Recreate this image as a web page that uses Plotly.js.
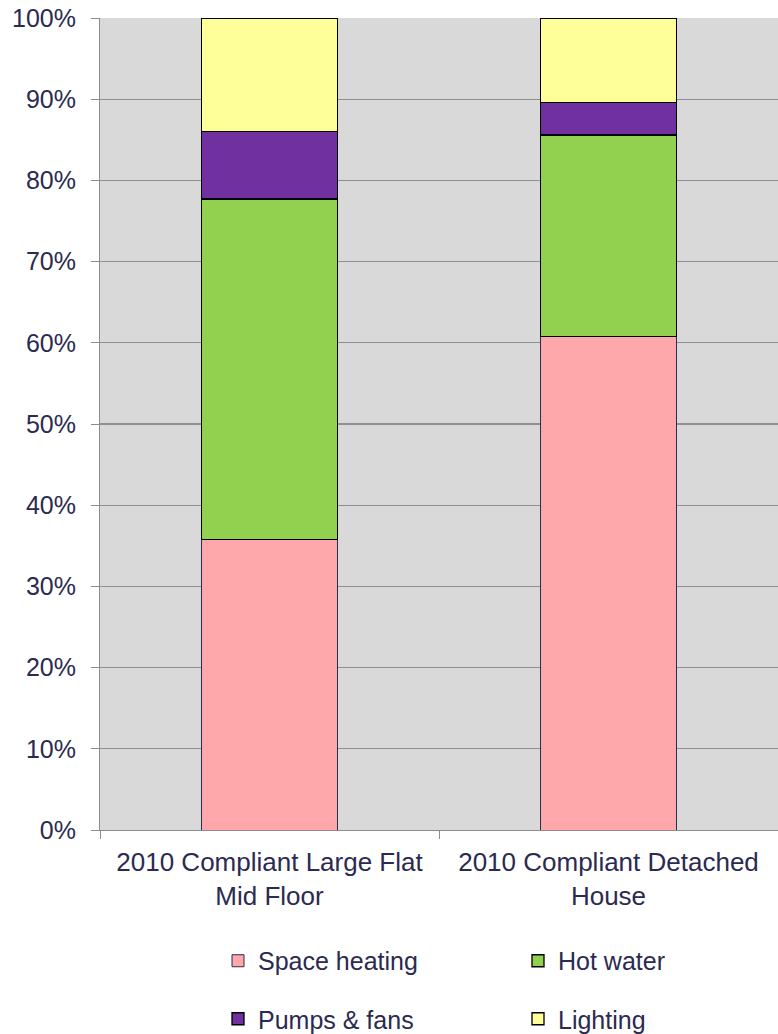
<!DOCTYPE html>
<html>
<head>
<meta charset="utf-8">
<script src="https://cdn.plot.ly/plotly-3.0.1.min.js"></script>
<style>html,body{margin:0;padding:0;background:#fff;}#chart{width:778px;height:1034px;}</style>
</head>
<body>
<div id="chart"></div>
<script>
const categories = ["2010 Compliant Large Flat<br>Mid Floor", "2010 Compliant Detached<br>House"];
const seriesNames = ["Space heating", "Hot water", "Pumps & fans", "Lighting"];
const spaceHeating = [35.8, 60.8];
const hotWater = [41.9, 24.8];
const pumpsFans = [8.3, 4.0];
const lighting = [14.0, 10.4];
const yTickVals = [0, 10, 20, 30, 40, 50, 60, 70, 80, 90, 100];
const yTickLabels = ["0%", "10%", "20%", "30%", "40%", "50%", "60%", "70%", "80%", "90%", "100%"];

const colors = ["#FFA8AC", "#92D050", "#7030A0", "#FFFF99"];
const lineColors = ["#2b2a50", "#000000", "#000000", "#000000"];
const lineWidths = [1, 1.3, 1.3, 1.3];
const legends = ["legend", "legend", "legend2", "legend2"];
const values = [spaceHeating, hotWater, pumpsFans, lighting];

const textColor = "#2b2a50";
const fontFamily = "Liberation Sans, Arial, sans-serif";

const traces = values.map((v, i) => ({
  type: "bar",
  name: seriesNames[i],
  x: categories,
  y: v,
  marker: { color: colors[i], line: { color: lineColors[i], width: lineWidths[i] } },
  legend: legends[i],
  hoverinfo: "skip"
}));

const legendCommon = {
  orientation: "h",
  traceorder: "normal",
  xanchor: "left",
  x: 0,
  indentation: 118,
  entrywidth: 137,
  entrywidthmode: "pixels",
  font: { family: fontFamily, size: 25, color: textColor },
  bgcolor: "rgba(0,0,0,0)",
  borderwidth: 0,
  itemclick: false,
  itemdoubleclick: false
};

const layout = {
  width: 778,
  height: 1034,
  margin: { l: 100, r: 0, t: 18, b: 204, pad: 0 },
  paper_bgcolor: "#ffffff",
  plot_bgcolor: "#D9D9D9",
  barmode: "stack",
  bargap: 0.6,
  showlegend: true,
  font: { family: fontFamily, color: textColor },
  xaxis: {
    type: "category",
    showgrid: false,
    showline: true,
    linecolor: "#8c8c8c",
    linewidth: 1,
    ticks: "outside",
    tickson: "boundaries",
    ticklen: 8,
    tickcolor: "#8c8c8c",
    ticklabelstandoff: 9,
    tickfont: { family: fontFamily, size: 26, color: textColor },
    fixedrange: true
  },
  yaxis: {
    range: [0, 100],
    tickmode: "array",
    tickvals: yTickVals,
    ticktext: yTickLabels,
    showgrid: true,
    gridcolor: "#8f8f94",
    gridwidth: 1.2,
    zeroline: false,
    showline: true,
    linecolor: "#8c8c8c",
    linewidth: 1,
    ticks: "outside",
    ticklen: 8,
    tickcolor: "#8c8c8c",
    ticklabelstandoff: 10,
    tickfont: { family: fontFamily, size: 25, color: textColor },
    fixedrange: true
  },
  legend: Object.assign({}, legendCommon, { yanchor: "top", y: -0.133 }),
  legend2: Object.assign({}, legendCommon, { yref: "container", yanchor: "middle", y: 0.0145 })
};

Plotly.newPlot("chart", traces, layout, { displayModeBar: false, staticPlot: true });
</script>
</body>
</html>
